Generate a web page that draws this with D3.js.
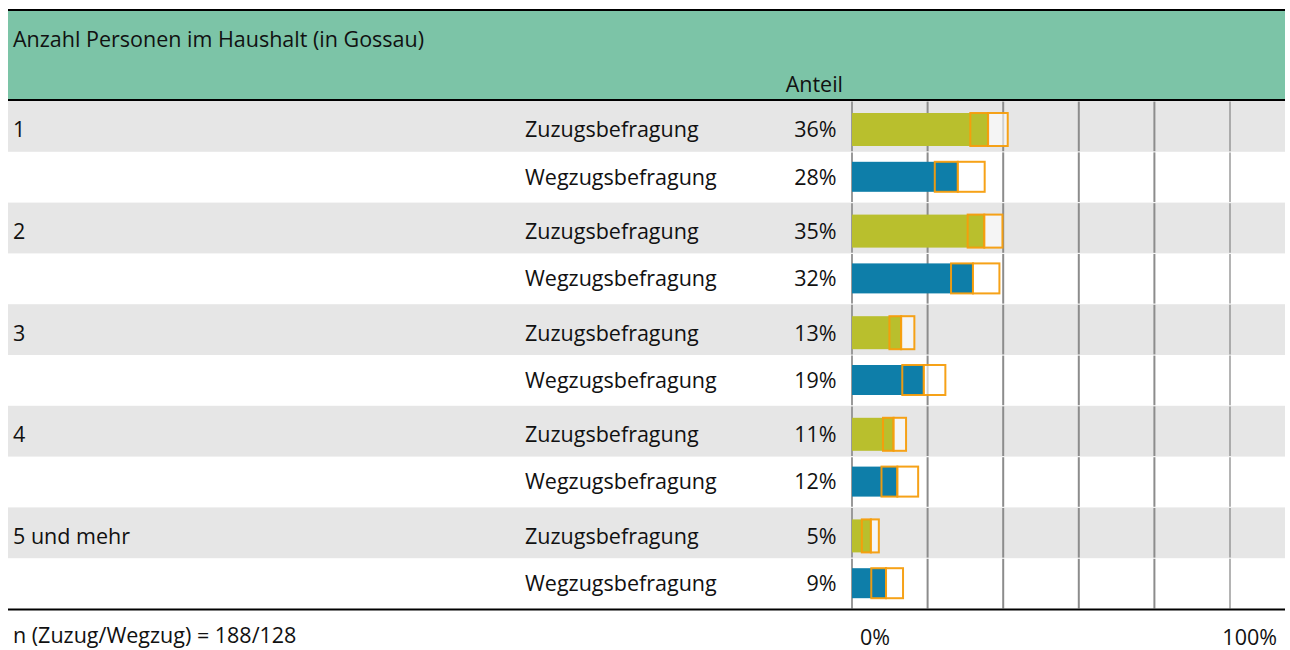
<!DOCTYPE html>
<html>
<head>
<meta charset="utf-8">
<script src="https://cdn.jsdelivr.net/npm/d3@7"></script>
<style>
  html, body { margin: 0; padding: 0; background: #ffffff; }
  svg { display: block; }
  text { font-family: "Open Sans", "Noto Sans", sans-serif; fill: #111; }
</style>
</head>
<body>
<svg id="chart" width="1290" height="650"></svg>
<script>
// Anzahl Personen im Haushalt – Anteile mit Vertrauensintervallen
const categories = ["1", "2", "3", "4", "5 und mehr"];
const seriesNames = ["Zuzugsbefragung", "Wegzugsbefragung"];
const zuzugValues = [36, 35, 13, 11, 5];
const wegzugValues = [28, 32, 19, 12, 9];
const zuzugLow = [31.3, 30.6, 9.9, 8.2, 2.6];
const zuzugHigh = [41.2, 39.8, 16.5, 14.3, 7.1];
const wegzugLow = [21.9, 26.2, 13.3, 7.8, 5.1];
const wegzugHigh = [35.1, 39.0, 24.7, 17.5, 13.5];
const gridTicks = [0, 20, 40, 60, 80, 100];
const axisLabels = ["0%", "100%"];
const title = "Anzahl Personen im Haushalt (in Gossau)";
const columnTitle = "Anteil";
const footnote = "n (Zuzug/Wegzug) = 188/128";

const rows = [];
categories.forEach((c, i) => {
  rows.push({ key: c + "|z", cat: c, series: 0, value: zuzugValues[i], lo: zuzugLow[i], hi: zuzugHigh[i] });
  rows.push({ key: c + "|w", cat: c, series: 1, value: wegzugValues[i], lo: wegzugLow[i], hi: wegzugHigh[i] });
});

const svg = d3.select("#chart");
const L = 8, R = 1285;
const fs = 21.5;

const x = d3.scaleLinear().domain([0, 100]).range([852, 1230]);
const y = d3.scaleBand().domain(rows.map(d => d.key)).range([101, 609]).padding(0);
const bw = y.bandwidth();

const colors = ["#b9bf2d", "#0e7ea9"];
const barOffset = [12, 10];
const barHeight = [33, 30];

// header band
svg.append("rect").attr("x", L).attr("y", 10).attr("width", R - L).attr("height", 90).attr("fill", "#7cc4a7");
svg.append("line").attr("x1", L).attr("x2", R).attr("y1", 10).attr("y2", 10).attr("stroke", "#000").attr("stroke-width", 2);
svg.append("line").attr("x1", L).attr("x2", R).attr("y1", 100).attr("y2", 100).attr("stroke", "#000").attr("stroke-width", 2);
svg.append("text").attr("x", 13).attr("y", 47).attr("font-size", fs).text(title);
svg.append("text").attr("x", 843).attr("y", 92).attr("font-size", fs).attr("text-anchor", "end").text(columnTitle);

// row backgrounds
svg.append("g").selectAll("rect").data(rows.filter(d => d.series === 0)).join("rect")
  .attr("x", L).attr("width", R - L)
  .attr("y", d => y(d.key)).attr("height", bw)
  .attr("fill", "#e6e6e6");

// grid lines, drawn row by row
const grid = svg.append("g");
rows.forEach(r => {
  grid.selectAll(null).data(gridTicks).join("line")
    .attr("x1", t => x(t)).attr("x2", t => x(t))
    .attr("y1", y(r.key) + 0.6).attr("y2", y(r.key) + bw - 0.6)
    .attr("stroke", t => t === 0 ? "#9a9a9a" : "#8c8c8c")
    .attr("stroke-width", t => t === 100 ? 1.3 : 2);
});

const barY = d => y(d.key) + barOffset[d.series];
const barH = d => barHeight[d.series];

// bars
svg.append("g").selectAll("rect").data(rows).join("rect")
  .attr("x", x(0)).attr("y", barY)
  .attr("width", d => x(d.value) - x(0)).attr("height", barH)
  .attr("fill", d => colors[d.series]);

// confidence interval boxes: lower part over the bar, upper part semi-transparent
const ci = svg.append("g").attr("stroke", "#f59d0c").attr("stroke-width", 2).attr("stroke-opacity", 0.95);
ci.selectAll("rect.lo").data(rows).join("rect").attr("class", "lo")
  .attr("x", d => x(d.lo)).attr("y", barY)
  .attr("width", d => x(d.value) - x(d.lo)).attr("height", barH)
  .attr("fill", "none");
ci.selectAll("rect.hi").data(rows).join("rect").attr("class", "hi")
  .attr("x", d => x(d.value)).attr("y", barY)
  .attr("width", d => x(d.hi) - x(d.value)).attr("height", barH)
  .attr("fill", "#ffffff").attr("fill-opacity", 0.6);

const textY = d => barY(d) + barH(d) / 2 + 7.8;

// labels
const labels = svg.append("g").attr("font-size", fs);
labels.selectAll("text.cat").data(rows.filter(d => d.series === 0)).join("text").attr("class", "cat")
  .attr("x", 13).attr("y", textY).text(d => d.cat);
labels.selectAll("text.ser").data(rows).join("text").attr("class", "ser")
  .attr("x", 525).attr("y", textY).text(d => seriesNames[d.series]);
labels.selectAll("text.val").data(rows).join("text").attr("class", "val")
  .attr("x", 836.5).attr("y", textY).attr("text-anchor", "end").text(d => d.value + "%");

// bottom rule and footer
svg.append("line").attr("x1", L).attr("x2", R).attr("y1", 609.5).attr("y2", 609.5).attr("stroke", "#000").attr("stroke-width", 2);
svg.append("text").attr("x", 13).attr("y", 643).attr("font-size", fs).text(footnote);
svg.append("text").attr("x", 860).attr("y", 645).attr("font-size", fs).text(axisLabels[0]);
svg.append("text").attr("x", 1277).attr("y", 645).attr("font-size", fs).attr("text-anchor", "end").text(axisLabels[1]);
</script>
</body>
</html>
